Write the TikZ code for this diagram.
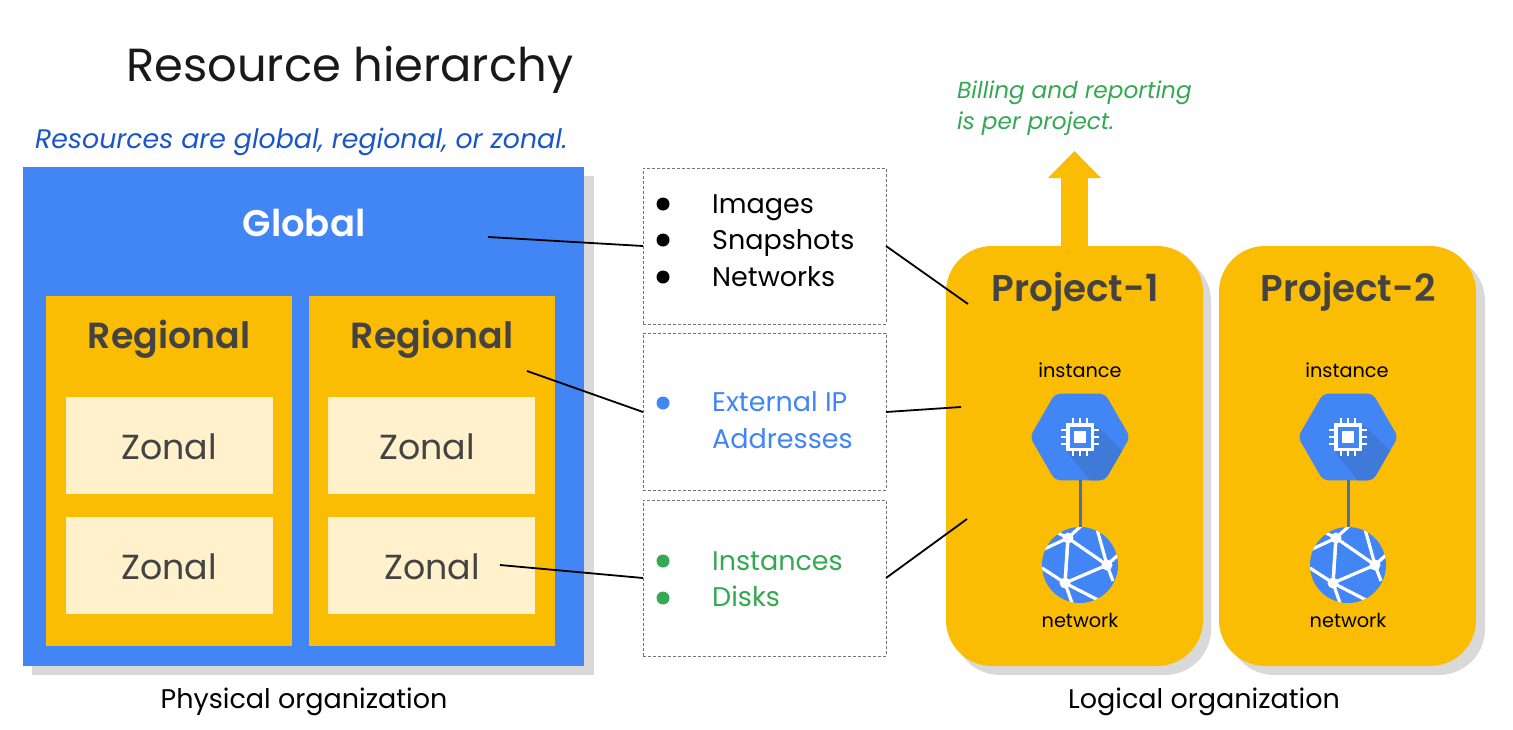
\documentclass[tikz,border=0pt]{standalone}
\usepackage{fontspec}
\setmainfont[Ligatures=NoCommon]{Poppins}
\newfontfamily\semib[Ligatures=NoCommon]{Poppins SemiBold}
\usetikzlibrary{shapes.geometric}
\definecolor{gblue}{HTML}{4285F4}
\definecolor{gyellow}{HTML}{FBBC04}
\definecolor{gcream}{HTML}{FEF1CC}
\definecolor{ggreen}{HTML}{34A853}
\definecolor{ggray}{HTML}{434343}
\definecolor{gshadow}{HTML}{D9D9D9}
\definecolor{gdark}{HTML}{3F7AD9}
\definecolor{gstem}{HTML}{4A6FB0}
\definecolor{gitalic}{HTML}{1A56C8}
\tikzset{
  x=1pt,y=-1pt,
  sharpbox/.style={anchor=north west,inner sep=0pt,outer sep=0pt},
  regbox/.style={sharpbox,fill=gyellow,minimum width=246pt,minimum height=350pt},
  zonebox/.style={sharpbox,fill=gcream,minimum width=207pt,minimum height=97pt},
  dashbox/.style={sharpbox,draw=black!55,densely dashed,line width=.7pt,minimum width=243pt},
  projbox/.style={sharpbox,fill=gyellow,rounded corners=46pt,minimum width=257pt,minimum height=420pt},
  projshadow/.style={sharpbox,fill=gshadow,rounded corners=46pt,minimum width=257pt,minimum height=420pt},
  link/.style={draw=black,line width=1.8pt},
  ztext/.style={font=\fontsize{34.8}{34.8}\selectfont,text=ggray},
  rtext/.style={font=\fontsize{36.3}{36.3}\semib,text=ggray},
  ptext/.style={font=\fontsize{37.3}{37.3}\semib,text=ggray},
  listtext/.style={font=\fontsize{27}{36.5}\selectfont,anchor=west,align=left,inner sep=0pt},
  smalltext/.style={font=\fontsize{19.3}{19.3}\selectfont,text=black},
  captext/.style={font=\fontsize{27}{27}\selectfont,text=black},
  dot/.style={circle,inner sep=0pt,minimum size=13pt},
  hexnode/.style={regular polygon,regular polygon sides=6,minimum size=100pt,inner sep=0pt,outer sep=0pt,fill=gblue,rounded corners=5pt,
    path picture={\fill[gdark] (14,-14) -- (62,34) -- (25,62) -- (-14,14) -- cycle;}},
  netnode/.style={circle,fill=gblue,minimum size=76pt,inner sep=0pt,outer sep=0pt,
    path picture={
      \begin{scope}[white,line width=3.2pt]
        \coordinate (ma) at (-12,-27);
        \coordinate (mb) at (27,0);
        \coordinate (mc) at (-15,18);
        \draw (ma) -- (mb) -- (mc) -- cycle;
        \draw (ma) -- (mc);
        \draw (ma) -- (-38,-15);
        \draw (ma) -- (-24,-33);
        \draw (ma) -- (2,-40);
        \draw (mb) -- (17,-36);
        \draw (mb) -- (38,-10);
        \draw (mb) -- (33,16);
        \draw (mc) -- (-38,3);
        \draw (mc) -- (-8,38);
        \draw (mc) -- (18,35);
        \fill (ma) circle (5.5);
        \fill (mb) circle (5.5);
        \fill (mc) circle (5.5);
      \end{scope}}},
}
\begin{document}
\begin{tikzpicture}
\useasboundingbox (0,0) rectangle (1513,729);
\fill[white] (0,0) rectangle (1513,729);

\node[anchor=west,inner sep=0pt,font=\fontsize{46.4}{46.4}\selectfont,text=black!90] (title) at (126,70) {Resource hierarchy};
\node[anchor=west,inner sep=0pt,font=\fontsize{26.8}{26.8}\selectfont\itshape,text=gitalic] (sub) at (35,142) {Resources are global, regional, or zonal.};

% physical
\fill[gshadow] (32,176) rectangle (594,675);
\node[sharpbox,fill=gblue,minimum width=561pt,minimum height=499pt] (global) at (23,167) {};
\node[font=\fontsize{37}{37}\semib,text=white] (globaltxt) at (304,223) {Global};
\node[regbox] (reg1) at (46,296) {};
\node[regbox] (reg2) at (309,296) {};
\node[rtext] at (169,339) {Regional};
\node[rtext] at (432,339) {Regional};
\node[zonebox] (z1) at (66,397) {};
\node[zonebox] (z2) at (66,517) {};
\node[zonebox] (z3) at (328,397) {};
\node[zonebox] (z4) at (328,517) {};
\node[ztext] at (169,446.5) {Zonal};
\node[ztext] at (169,566.5) {Zonal};
\node[ztext] at (427,446.5) {Zonal};
\node[ztext] at (432,566.5) {Zonal};
\node[captext] (physcap) at (304,702) {Physical organization};

% lists
\node[dashbox,minimum height=156pt] (list1) at (643,168) {};
\node[dashbox,minimum height=157pt] (list2) at (643,333) {};
\node[dashbox,minimum height=156pt] (list3) at (643,500) {};
\foreach \y in {204,240,277}{ \node[dot,fill=black] at (663,\y) {}; }
\node[dot,fill=gblue] at (663,403) {};
\node[dot,fill=ggreen] at (663,561) {};
\node[dot,fill=ggreen] at (663,598) {};
\node[listtext,text=black] at (712,240.5) {Images\\Snapshots\\Networks};
\node[listtext,text=gblue] at (712,420) {External IP\\Addresses};
\node[listtext,text=ggreen] at (712,579) {Instances\\Disks};

% projects
\node[projshadow] at (954,255) {};
\node[projshadow] at (1228,255) {};
\fill[gyellow] (1061,178) rectangle (1088,250);
\fill[gyellow] (1048,178) -- (1074.5,151) -- (1101,178) -- cycle;
\node[projbox] (p1) at (946,246) {};
\node[projbox] (p2) at (1219,246) {};
\node[ptext] at (1075,292) {Project-1};
\node[ptext] at (1348,292) {Project-2};

\node[smalltext] at (1080,370) {instance};
\node[smalltext] at (1347,370) {instance};
\node[smalltext] at (1080,620) {network};
\node[smalltext] at (1348,620) {network};

\node[hexnode] (inst1) at (1080,437) {};
\node[hexnode] (inst2) at (1348,437) {};
\node[netnode] (net1) at (1080,565) {};
\node[netnode] (net2) at (1348,565) {};
\foreach \cx in {1080,1348}{
  \foreach \d in {-7.3,0,7.3}{
    \draw[white,line width=1.8pt] (\cx+\d,418) -- (\cx+\d,456);
    \draw[white,line width=1.8pt] (\cx-19,437+\d) -- (\cx+19,437+\d);
  }
  \fill[white] (\cx-14,423) rectangle (\cx+14,451);
  \fill[gblue] (\cx-10.5,426.5) rectangle (\cx+10.5,447.5);
  \fill[white] (\cx-6,431) rectangle (\cx+6,443);
}
\draw[gstem,line width=3pt] (inst1) -- (net1);
\draw[gstem,line width=3pt] (inst2) -- (net2);

\node[captext] (logcap) at (1204,702) {Logical organization};
\node[anchor=west,align=left,inner sep=0pt,font=\fontsize{23.2}{31}\selectfont\itshape,text=ggreen] (bill) at (957,108) {Billing and reporting\\is per project.};

% connectors
\coordinate (g0) at (488,237);
\coordinate (g1) at (643,246);
\coordinate (r0) at (527,371);
\coordinate (r1) at (643,412);
\coordinate (zc0) at (500,565);
\coordinate (zc1) at (643,578);
\coordinate (a0) at (886,246);
\coordinate (a1) at (968,304);
\coordinate (b0) at (886,412);
\coordinate (b1) at (961,407);
\coordinate (c0) at (886,578);
\coordinate (c1) at (967,519);
\draw[link] (g0) -- (g1);
\draw[link] (r0) -- (r1);
\draw[link] (zc0) -- (zc1);
\draw[link] (a0) -- (a1);
\draw[link] (b0) -- (b1);
\draw[link] (c0) -- (c1);
\end{tikzpicture}
\end{document}
